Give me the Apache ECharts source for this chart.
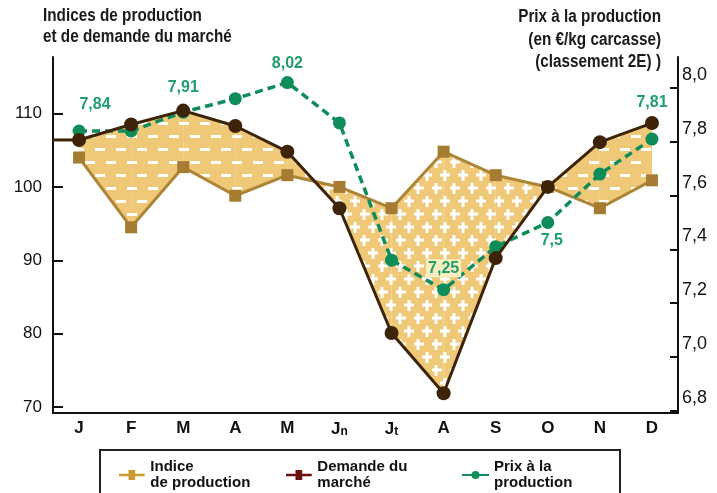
<!DOCTYPE html>
<html>
<head>
<meta charset="utf-8">
<script src="https://cdn.jsdelivr.net/npm/echarts@6/dist/echarts.min.js"></script>
<style>
  html, body { margin: 0; padding: 0; background: #fff; }
  #chart { width: 717px; height: 493px; }
</style>
</head>
<body>
<div id="chart"></div>
<script>
var months = ['J', 'F', 'M', 'A', 'M', 'Jn', 'Jt', 'A', 'S', 'O', 'N', 'D'];
var production = [104.0, 94.5, 102.7, 98.8, 101.6, 100.0, 97.1, 104.8, 101.6, 100.0, 97.1, 100.9];
var demand = [106.4, 108.5, 110.4, 108.3, 104.8, 97.1, 80.1, 71.9, 90.3, 100.0, 106.1, 108.7];
var price = [7.84, 7.84, 7.91, 7.96, 8.02, 7.87, 7.36, 7.25, 7.41, 7.50, 7.68, 7.81];
var priceLabelled = [0, 2, 4, 7, 9, 11];
var leftTicks = [70, 80, 90, 100, 110];
var rightTicks = [6.8, 7.0, 7.2, 7.4, 7.6, 7.8, 8.0];

var FONT = '"Liberation Sans", Arial, sans-serif';
var TAN = '#efc878';
var GOLD = '#ad8536';
var BROWN = '#3d2408';
var GREEN = '#0e8c5a';

document.addEventListener('DOMContentLoaded', function() {

    function makePattern(kind) {
        var c = document.createElement('canvas');
        var ctx = c.getContext('2d');
        if (kind === 'dash') {
            c.width = 21; c.height = 26;
            ctx.fillStyle = TAN; ctx.fillRect(0, 0, 21, 26);
            ctx.fillStyle = '#ffffff';
            ctx.fillRect(1, 5, 10, 3);
            ctx.fillRect(11, 18, 10, 3);
        } else {
            c.width = 18; c.height = 26;
            ctx.fillStyle = TAN; ctx.fillRect(0, 0, 18, 26);
            ctx.fillStyle = '#ffffff';
            [[4, 6], [13, 19]].forEach(function(p) {
                ctx.fillRect(p[0] - 5, p[1] - 1.5, 11, 3);
                ctx.fillRect(p[0] - 1.5, p[1] - 5, 3, 11);
            });
        }
        return { image: c, repeat: 'repeat' };
    }

    var dashFill = makePattern('dash');
    var plusFill = makePattern('plus');

    var chart = echarts.init(document.getElementById('chart'));

    function comma(v, d) {
        return v.toFixed(d).replace('.', ',');
    }

    var priceData = price.map(function(v, i) {
        var item = { value: v };
        if (priceLabelled.indexOf(i) >= 0) {
            item.label = { show: true, position: 'top', distance: 10 };
            if (i === 0) {
                item.label = { show: true, position: 'top', distance: 12, offset: [16, 0] };
            }
            if (i === 4) {
                item.label = { show: true, position: 'top', distance: 4 };
            }
            if (i === 9) {
                item.label = { show: true, position: 'bottom', distance: 4, offset: [4, 0] };
            }
            if (i === 7) {
                item.label = { show: true, position: 'top', distance: 6, backgroundColor: '#fbeec0', padding: [1, 2] };
            }
            if (i === 11) {
                item.label = { show: true, position: 'top', distance: 22 };
            }
        }
        return item;
    });

    var legendText = { fontFamily: FONT, fontWeight: 'bold', fontSize: 15, lineHeight: 16, color: '#111' };
    var squareIcon = 'path://M0,4h10v-4h7v4h10v2.5h-10v4h-7v-4h-10z';

    var option = {
        animation: false,
        textStyle: { fontFamily: FONT },
        grid: { left: 53, right: 39, top: 57, bottom: 80 },
        graphic: [
            {
                type: 'text', x: 43, y: 6, scaleX: 0.85,
                style: {
                    text: 'Indices de production\net de demande du marché',
                    font: 'bold 18px ' + FONT, fill: '#1a1a1a', lineHeight: 21
                }
            },
            {
                type: 'text', x: 661, y: 6, scaleX: 0.85,
                style: {
                    text: 'Prix à la production\n(en €/kg carcasse)\n(classement 2E) )',
                    font: 'bold 18px ' + FONT, fill: '#1a1a1a', lineHeight: 22.5, align: 'right'
                }
            },
            {
                type: 'rect', shape: { x: 100, y: 450, width: 520, height: 60 },
                style: { fill: 'none', stroke: '#222', lineWidth: 2 }
            }
        ],
        legend: [
            {
                left: 114, top: 454, itemWidth: 27, itemHeight: 10,
                textStyle: legendText,
                data: [{ name: 'Indice\nde production', icon: squareIcon, itemStyle: { color: '#c89a30' } }]
            },
            {
                left: 281, top: 454, itemWidth: 27, itemHeight: 10,
                textStyle: legendText,
                data: [{ name: 'Demande du\nmarché', icon: squareIcon, itemStyle: { color: '#6b0f0f' } }]
            },
            {
                left: 456, top: 454, itemWidth: 27, itemHeight: 10,
                textStyle: legendText,
                data: [{ name: 'Prix à la\nproduction', itemStyle: { color: GREEN }, lineStyle: { color: GREEN, type: 'solid' } }]
            }
        ],
        xAxis: {
            type: 'category',
            data: months,
            boundaryGap: true,
            axisLine: { lineStyle: { color: '#111', width: 2 } },
            axisTick: { inside: true, length: 9, alignWithLabel: true, interval: 0, lineStyle: { color: '#111', width: 2 } },
            axisLabel: {
                interval: 0,
                margin: 7,
                formatter: function(v) {
                    if (v.length > 1) return '{m|' + v[0] + '}{s|' + v.slice(1) + '}';
                    return '{m|' + v + '}';
                },
                rich: {
                    m: { fontFamily: FONT, fontWeight: 'bold', fontSize: 17, color: '#111' },
                    s: { fontFamily: FONT, fontWeight: 'bold', fontSize: 12, color: '#111', padding: [6, 0, 0, 0] }
                }
            }
        },
        yAxis: [
            {
                type: 'value', min: 69.2, max: 117.7, position: 'left',
                splitLine: { show: false },
                axisLine: { show: true, lineStyle: { color: '#111', width: 2 } },
                axisTick: { show: true, inside: true, length: 10, customValues: leftTicks, lineStyle: { color: '#111', width: 2 } },
                axisLabel: {
                    customValues: leftTicks, margin: 11, fontSize: 17, color: '#111', fontFamily: FONT
                }
            },
            {
                type: 'value', min: 6.792, max: 8.115, position: 'right',
                splitLine: { show: false },
                axisLine: { show: true, lineStyle: { color: '#111', width: 2 } },
                axisTick: { show: true, inside: true, length: 8, customValues: rightTicks, lineStyle: { color: '#111', width: 2 } },
                axisLabel: {
                    customValues: rightTicks, margin: 4, fontSize: 18, color: '#111', fontFamily: FONT,
                    lineHeight: 26, showMinLabel: true, showMaxLabel: true, hideOverlap: false,
                    formatter: function(v) { return comma(v, 1) + '\n '; }
                }
            }
        ],
        series: [
            {
                type: 'custom',
                name: 'fill',
                xAxisIndex: 0, yAxisIndex: 0,
                z: 1,
                silent: true,
                data: production.map(function(v, i) { return [i, v]; }),
                encode: { x: 0, y: 1 },
                renderItem: function(params, api) {
                    var i = params.dataIndex;
                    var children = [];
                    if (i === 0) {
                        var s = api.coord([0, demand[0]]);
                        children.push({
                            type: 'line',
                            shape: { x1: params.coordSys.x, y1: s[1], x2: s[0], y2: s[1] },
                            style: { stroke: BROWN, lineWidth: 3 }
                        });
                    }
                    if (i < production.length - 1) {
                        var a1 = api.coord([i, production[i]]);
                        var b1 = api.coord([i, demand[i]]);
                        var a2 = api.coord([i + 1, production[i + 1]]);
                        var b2 = api.coord([i + 1, demand[i + 1]]);
                        var d1 = demand[i] - production[i];
                        var d2 = demand[i + 1] - production[i + 1];
                        if (d1 * d2 < 0) {
                            var t = d1 / (d1 - d2);
                            var c = [a1[0] + (a2[0] - a1[0]) * t, a1[1] + (a2[1] - a1[1]) * t];
                            children.push({ type: 'polygon', shape: { points: [a1, b1, c] },
                                style: { fill: d1 > 0 ? dashFill : plusFill } });
                            children.push({ type: 'polygon', shape: { points: [c, b2, a2] },
                                style: { fill: d2 > 0 ? dashFill : plusFill } });
                        } else {
                            children.push({ type: 'polygon', shape: { points: [a1, a2, b2, b1] },
                                style: { fill: (d1 + d2) > 0 ? dashFill : plusFill } });
                        }
                    }
                    return { type: 'group', children: children };
                }
            },
            {
                type: 'line',
                name: 'Indice\nde production',
                yAxisIndex: 0,
                z: 3,
                data: production,
                symbol: 'rect',
                symbolSize: 12,
                lineStyle: { color: GOLD, width: 3 },
                itemStyle: { color: '#a57c32' }
            },
            {
                type: 'line',
                name: 'Prix à la\nproduction',
                yAxisIndex: 1,
                z: 4,
                data: priceData,
                symbol: 'circle',
                symbolSize: 13,
                lineStyle: { color: GREEN, width: 3.5, type: [8, 5] },
                itemStyle: { color: GREEN },
                label: {
                    show: false,
                    color: '#1f9e6e',
                    fontFamily: FONT,
                    fontWeight: 'bold',
                    fontSize: 16,
                    formatter: function(p) { return comma(p.value, p.value * 100 % 10 === 0 ? 1 : 2); }
                }
            },
            {
                type: 'line',
                name: 'Demande du\nmarché',
                yAxisIndex: 0,
                z: 5,
                data: demand,
                symbol: 'circle',
                symbolSize: 14,
                lineStyle: { color: BROWN, width: 3 },
                itemStyle: { color: BROWN }
            }
        ]
    };

    chart.setOption(option);
});
</script>
</body>
</html>
